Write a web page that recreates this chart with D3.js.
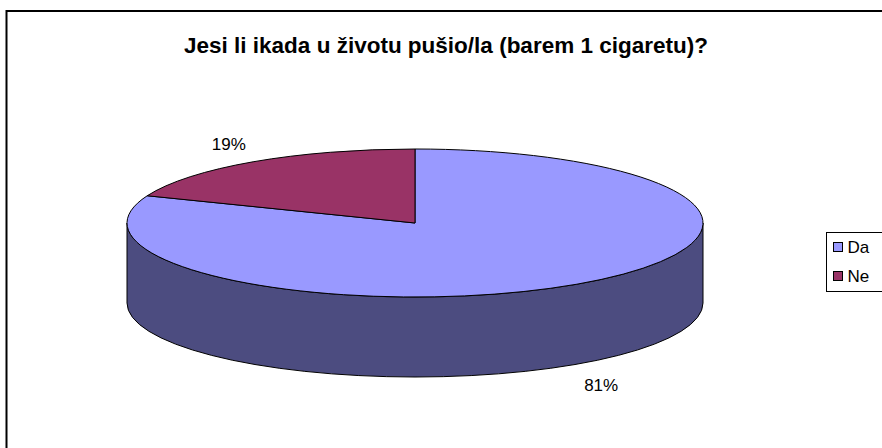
<!DOCTYPE html>
<html>
<head>
<meta charset="utf-8">
<script src="https://cdn.jsdelivr.net/npm/d3@7"></script>
<style>
  body { margin: 0; background: #fff; }
  svg { display: block; font-family: 'Liberation Sans', Arial, sans-serif; }
</style>
</head>
<body>
<div id="chart"></div>
<script>
// Survey answers
var title = 'Jesi li ikada u životu pušio/la (barem 1 cigaretu)?'
var categories = ['Da', 'Ne']
var values = [81, 19]
var topColors = ['#9999ff', '#993366']
var sideColors = ['#4c4c80', '#4d1a33']

var width = 882
var height = 448

// ellipse geometry of the pie
var cx = 415
var cy = 223
var rx = 288
var ry = 74
var depth = 80

var svg = d3.select('#chart').append('svg')
  .attr('width', width)
  .attr('height', height)

// chart area border (runs off the right and bottom edge)
svg.append('rect')
  .attr('x', 6.5)
  .attr('y', 11)
  .attr('width', 900)
  .attr('height', 460)
  .attr('fill', '#fff')
  .attr('stroke', '#000')
  .attr('stroke-width', 2)

svg.append('text')
  .attr('x', 446)
  .attr('y', 53)
  .attr('text-anchor', 'middle')
  .style('font-size', '22.5px')
  .style('font-weight', 'bold')
  .text(title)

var pie = d3.pie().sort(null).value(function (d) { return d.value })
var slices = pie(categories.map(function (c, i) { return { name: c, value: values[i], i: i } }))

function pt (a, dy) {
  return [cx + rx * Math.sin(a), cy - ry * Math.cos(a) + (dy || 0)]
}

// visible front wall of a slice (between 90 and 270 degrees)
function sidePath (a0, a1) {
  var s = Math.max(a0, Math.PI / 2)
  var e = Math.min(a1, Math.PI * 3 / 2)
  if (e <= s) return null
  var p0 = pt(s)
  var p1 = pt(e)
  var q0 = pt(s, depth)
  var q1 = pt(e, depth)
  return 'M' + p0 + 'A' + rx + ',' + ry + ' 0 0 1 ' + p1 +
    'L' + q1 + 'A' + rx + ',' + ry + ' 0 0 0 ' + q0 + 'Z'
}

function topPath (a0, a1) {
  var large = (a1 - a0) > Math.PI ? 1 : 0
  return 'M' + cx + ',' + cy + 'L' + pt(a0) +
    'A' + rx + ',' + ry + ' 0 ' + large + ' 1 ' + pt(a1) + 'Z'
}

var g = svg.append('g')

g.selectAll('path.side')
  .data(slices.filter(function (d) { return sidePath(d.startAngle, d.endAngle) }))
  .enter().append('path')
  .attr('class', 'side')
  .attr('d', function (d) { return sidePath(d.startAngle, d.endAngle) })
  .attr('fill', function (d) { return sideColors[d.data.i] })
  .attr('stroke', '#000')
  .attr('stroke-width', 1)
  .attr('stroke-linejoin', 'round')

g.selectAll('path.top')
  .data(slices)
  .enter().append('path')
  .attr('class', 'top')
  .attr('d', function (d) { return topPath(d.startAngle, d.endAngle) })
  .attr('fill', function (d) { return topColors[d.data.i] })
  .attr('stroke', '#000')
  .attr('stroke-width', 1)
  .attr('stroke-linejoin', 'round')

// percentage labels outside the pie
g.selectAll('text.lbl')
  .data(slices)
  .enter().append('text')
  .attr('class', 'lbl')
  .attr('text-anchor', 'middle')
  .attr('dominant-baseline', 'central')
  .style('font-size', '17px')
  .attr('x', function (d) {
    var a = (d.startAngle + d.endAngle) / 2
    return cx + rx * 1.15 * Math.sin(a)
  })
  .attr('y', function (d) {
    var a = (d.startAngle + d.endAngle) / 2
    var c = Math.cos(a)
    return cy - ry * 1.31 * c + (c < 0 ? depth : 0) + 2
  })
  .text(function (d) { return d.data.value + '%' })

// legend
var legend = svg.append('g').attr('transform', 'translate(826.5,232.5)')
legend.append('rect')
  .attr('width', 80)
  .attr('height', 59)
  .attr('fill', '#fff')
  .attr('stroke', '#000')
  .attr('stroke-width', 1)

var items = legend.selectAll('g.item')
  .data(categories)
  .enter().append('g')
  .attr('class', 'item')
  .attr('transform', function (d, i) { return 'translate(7,' + (15 + i * 29) + ')' })

items.append('rect')
  .attr('x', 0)
  .attr('y', -5)
  .attr('width', 9)
  .attr('height', 9)
  .attr('fill', function (d, i) { return topColors[i] })
  .attr('stroke', '#000')

items.append('text')
  .attr('x', 14)
  .attr('y', 0)
  .attr('dominant-baseline', 'central')
  .style('font-size', '17px')
  .text(function (d) { return d })
</script>
</body>
</html>
